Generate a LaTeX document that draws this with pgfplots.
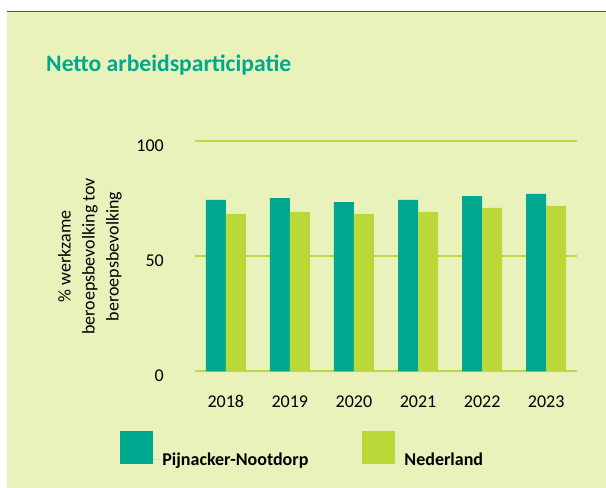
\documentclass[border=0pt]{standalone}
\usepackage{pgfplots}
\pgfplotsset{compat=1.18}
\usepackage{fontspec}
\setmainfont{Carlito}
\definecolor{tealc}{HTML}{00A88F}
\definecolor{limec}{HTML}{BAD839}
\definecolor{bgc}{HTML}{E8F2BA}
\definecolor{gridc}{HTML}{BDD842}
\definecolor{topc}{HTML}{555555}
\begin{document}
\begin{tikzpicture}
\useasboundingbox (0bp,0bp) rectangle (606bp,488bp);
\fill[bgc] (6.5bp,0bp) rectangle (606bp,476.5bp);
\draw[line width=1.5bp, topc] (6.5bp,476.5bp) -- (606bp,476.5bp);
\node[anchor=base west, text=tealc, font=\fontsize{23.6bp}{27bp}\selectfont\bfseries, inner sep=0pt] at (46bp,416bp) {Netto arbeidsparticipatie};
\begin{axis}[
  at={(195bp,116.7bp)}, anchor=south west,
  scale only axis, width=382bp, height=230bp,
  xmin=-0.48, xmax=5.48, ymin=0, ymax=100,
  ybar=0pt, bar width=20bp,
  axis line style={draw=none},
  major tick length=0pt,
  xtick={0,1,2,3,4,5},
  xticklabels={2018,2019,2020,2021,2022,2023},
  ytick={0,50,100},
  ymajorgrids, grid style={color=gridc, line width=2bp},
  /pgf/number format/assume math mode=true,
  ticklabel style={font=\fontsize{18bp}{21bp}\selectfont},
  xticklabel style={anchor=center, yshift=-30bp},
  yticklabel style={anchor=east, inner sep=0pt, xshift=-31bp, yshift=-4bp},
  ylabel={\% werkzame\\beroepsbevolking tov\\beroepsbevolking},
  ylabel style={at={(axis description cs:-0.275,0.5)}, anchor=center, align=center, font=\fontsize{18bp}{24bp}\selectfont},
  legend columns=2,
  legend style={at={(axis description cs:0.282,-0.342)}, anchor=center, draw=none, fill=none,
    font=\fontsize{18bp}{21bp}\selectfont\bfseries,
    /tikz/every even column/.append style={column sep=52bp}},
  legend image code/.code={\fill[#1] (0bp,-5bp) rectangle (33bp,28bp); \path (0bp,0bp) -- (40bp,0bp);},
]
\addplot[fill=tealc, draw=none] coordinates {(0,74.5) (1,75.3) (2,73.6) (3,74.5) (4,76.2) (5,77.1)};
\addplot[fill=limec, draw=none] coordinates {(0,68.4) (1,69.3) (2,68.4) (3,69.3) (4,71.0) (5,71.9)};
\legend{Pijnacker-Nootdorp, Nederland}
\end{axis}
\end{tikzpicture}
\end{document}
